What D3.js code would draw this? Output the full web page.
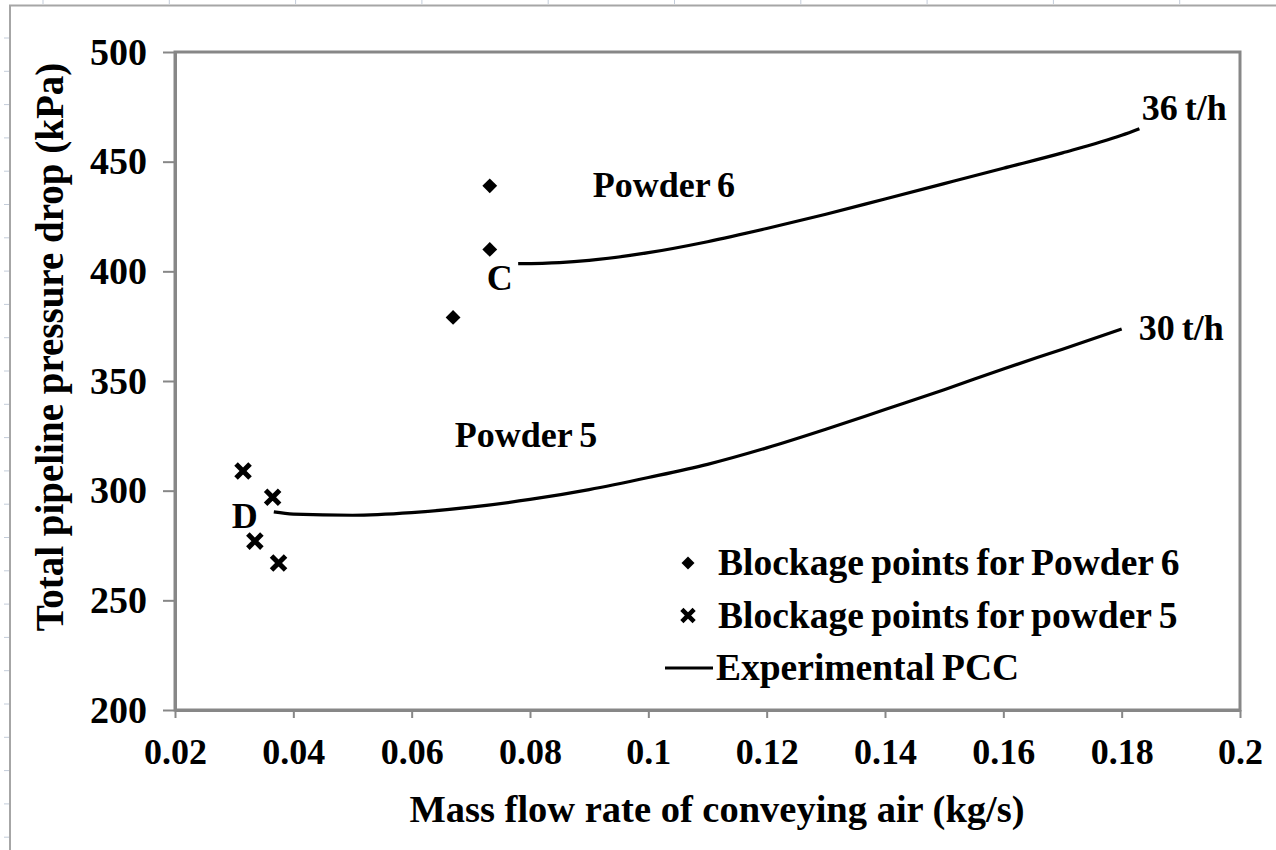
<!DOCTYPE html>
<html>
<head>
<meta charset="utf-8">
<script src="https://cdn.jsdelivr.net/npm/d3@7"></script>
<style>
  html, body { margin: 0; padding: 0; background: #ffffff; }
  svg { display: block; }
  text { font-family: "Liberation Serif", "Times New Roman", serif; font-weight: bold; fill: #000; }
</style>
</head>
<body>
<svg id="chart" width="1276" height="850"></svg>
<script>
// Axis ticks
const xTicks = [0.02, 0.04, 0.06, 0.08, 0.1, 0.12, 0.14, 0.16, 0.18, 0.2];
const xTickLabels = ["0.02", "0.04", "0.06", "0.08", "0.1", "0.12", "0.14", "0.16", "0.18", "0.2"];
const yTicks = [200, 250, 300, 350, 400, 450, 500];
const yTickLabels = ["200", "250", "300", "350", "400", "450", "500"];

// Blockage points (air mass flow kg/s, pressure drop kPa)
const powder6X = [0.0732, 0.0732, 0.0670];
const powder6Y = [439, 410, 379];
const powder5X = [0.0315, 0.0365, 0.0335, 0.0375];
const powder5Y = [309, 297, 277, 267];

// Experimental pipeline conveying characteristics
const pcc36X = [0.078, 0.085, 0.09, 0.10, 0.11, 0.12, 0.13, 0.14, 0.15, 0.16, 0.17, 0.18, 0.183];
const pcc36Y = [403.5, 404.0, 405.0, 408.5, 413.5, 419.5, 426, 433, 440, 447, 454, 462, 465];
const pcc30X = [0.0367, 0.04, 0.05, 0.06, 0.07, 0.08, 0.09, 0.10, 0.11, 0.12, 0.13, 0.14, 0.15, 0.16, 0.17, 0.18];
const pcc30Y = [290.3, 289.3, 288.8, 290, 292.5, 296, 300.5, 306, 312, 319.5, 328, 337, 346, 355.5, 364.5, 373.7];

// Text annotations anchored in data units (left edge, baseline)
const noteText = ["Powder 6", "Powder 5", "C", "D", "36 t/h", "30 t/h"];
const noteX = [0.0906, 0.0673, 0.0727, 0.0296, 0.1834, 0.1829];
const noteY = [433.9, 319.9, 391.5, 283.0, 469.0, 368.7];

const legendLabels = ["Blockage points for Powder 6", "Blockage points for powder 5", "Experimental PCC"];

const svg = d3.select("#chart");
const W = 1276, H = 850;
const plot = { left: 175, right: 1240, top: 52, bottom: 710 };

// Worksheet edge behind the chart object
const sheet = svg.append("g");
sheet.append("rect").attr("x", 0).attr("y", 0).attr("width", W).attr("height", H).attr("fill", "#fff");
d3.range(43, W, 126.3).forEach(x => {
  sheet.append("line").attr("x1", x).attr("x2", x).attr("y1", 0).attr("y2", 4)
    .attr("stroke", "#c3ccd9").attr("stroke-width", 1);
});
d3.range(38, H, 33.3).forEach(y => {
  sheet.append("line").attr("x1", 4).attr("x2", 9).attr("y1", y).attr("y2", y)
    .attr("stroke", "#c3ccd9").attr("stroke-width", 1);
});
sheet.append("line").attr("x1", 9).attr("x2", W).attr("y1", 5.5).attr("y2", 5.5)
  .attr("stroke", "#a6a6a6").attr("stroke-width", 2);
sheet.append("line").attr("x1", 10).attr("x2", 10).attr("y1", 5).attr("y2", H)
  .attr("stroke", "#a6a6a6").attr("stroke-width", 2);

const x = d3.scaleLinear().domain([0.02, 0.2]).range([plot.left, plot.right]);
const y = d3.scaleLinear().domain([200, 500]).range([plot.bottom, plot.top]);

// Plot frame
svg.append("rect")
  .attr("x", plot.left).attr("y", plot.top)
  .attr("width", plot.right - plot.left).attr("height", plot.bottom - plot.top)
  .attr("fill", "none").attr("stroke", "#878787").attr("stroke-width", 3);

// Axes
const yAxis = d3.axisLeft(y).tickValues(yTicks)
  .tickFormat((d, i) => yTickLabels[i]).tickSize(12).tickSizeOuter(0).tickPadding(16);
const gy = svg.append("g").attr("transform", `translate(${plot.left},0)`).call(yAxis);
const xAxis = d3.axisBottom(x).tickValues(xTicks)
  .tickFormat((d, i) => xTickLabels[i]).tickSize(8).tickSizeOuter(0).tickPadding(20);
const gx = svg.append("g").attr("transform", `translate(0,${plot.bottom})`).call(xAxis);

[gx, gy].forEach(g => {
  g.select(".domain").attr("stroke", "#878787").attr("stroke-width", 3);
  g.selectAll(".tick line").attr("stroke", "#878787").attr("stroke-width", 2);
  g.selectAll(".tick text").style("font-family", "'Liberation Serif', serif")
    .style("font-weight", "bold").attr("fill", "#000");
});
gx.selectAll(".tick text").style("font-size", "36px");
gy.selectAll(".tick text").style("font-size", "38px");

// Axis titles
svg.append("text")
  .attr("x", 717).attr("y", 822)
  .attr("text-anchor", "middle").style("font-size", "38.5px")
  .text("Mass flow rate of conveying air (kg/s)");
svg.append("text")
  .attr("transform", `translate(63,${347}) rotate(-90)`)
  .attr("text-anchor", "middle").style("font-size", "39px")
  .text("Total pipeline pressure drop (kPa)");

// PCC curves
const line = d3.line().x(d => x(d[0])).y(d => y(d[1])).curve(d3.curveMonotoneX);
[[pcc36X, pcc36Y], [pcc30X, pcc30Y]].forEach(([xs, ys]) => {
  svg.append("path")
    .datum(xs.map((v, i) => [v, ys[i]]))
    .attr("d", line)
    .attr("fill", "none").attr("stroke", "#000").attr("stroke-width", 3.2);
});

// Markers
const diamond = d3.symbol(d3.symbolSquare, 110);
const cross = d3.symbol(d3.symbolTimes, 130);

svg.append("g").selectAll("path")
  .data(powder6X.map((v, i) => [v, powder6Y[i]]))
  .join("path")
  .attr("d", diamond)
  .attr("transform", d => `translate(${x(d[0])},${y(d[1])}) rotate(45)`)
  .attr("fill", "#000");

svg.append("g").selectAll("path")
  .data(powder5X.map((v, i) => [v, powder5Y[i]]))
  .join("path")
  .attr("d", cross)
  .attr("transform", d => `translate(${x(d[0])},${y(d[1])})`)
  .attr("fill", "none").attr("stroke", "#000").attr("stroke-width", 5);

// Annotations
svg.append("g").selectAll("text")
  .data(noteText)
  .join("text")
  .attr("x", (d, i) => x(noteX[i]))
  .attr("y", (d, i) => y(noteY[i]))
  .style("font-size", "36px")
  .style("word-spacing", "-2px")
  .text(d => d);

// Legend
const legend = svg.append("g").attr("transform", "translate(688,563)");
const rowGap = 52.5;
legend.append("path").attr("d", d3.symbol(d3.symbolSquare, 85))
  .attr("transform", "rotate(45)").attr("fill", "#000");
legend.append("path").attr("d", d3.symbol(d3.symbolTimes, 100))
  .attr("transform", `translate(0,${rowGap})`)
  .attr("fill", "none").attr("stroke", "#000").attr("stroke-width", 4.5);
legend.append("line").attr("x1", -23).attr("x2", 25)
  .attr("y1", 2 * rowGap).attr("y2", 2 * rowGap)
  .attr("stroke", "#000").attr("stroke-width", 3.2);
legend.selectAll("text.lab")
  .data(legendLabels)
  .join("text")
  .attr("class", "lab")
  .attr("x", (d, i) => i < 2 ? 30 : 28)
  .attr("y", (d, i) => i * rowGap + 12)
  .style("font-size", "37.5px")
  .style("word-spacing", "-2px")
  .text(d => d);
</script>
</body>
</html>
